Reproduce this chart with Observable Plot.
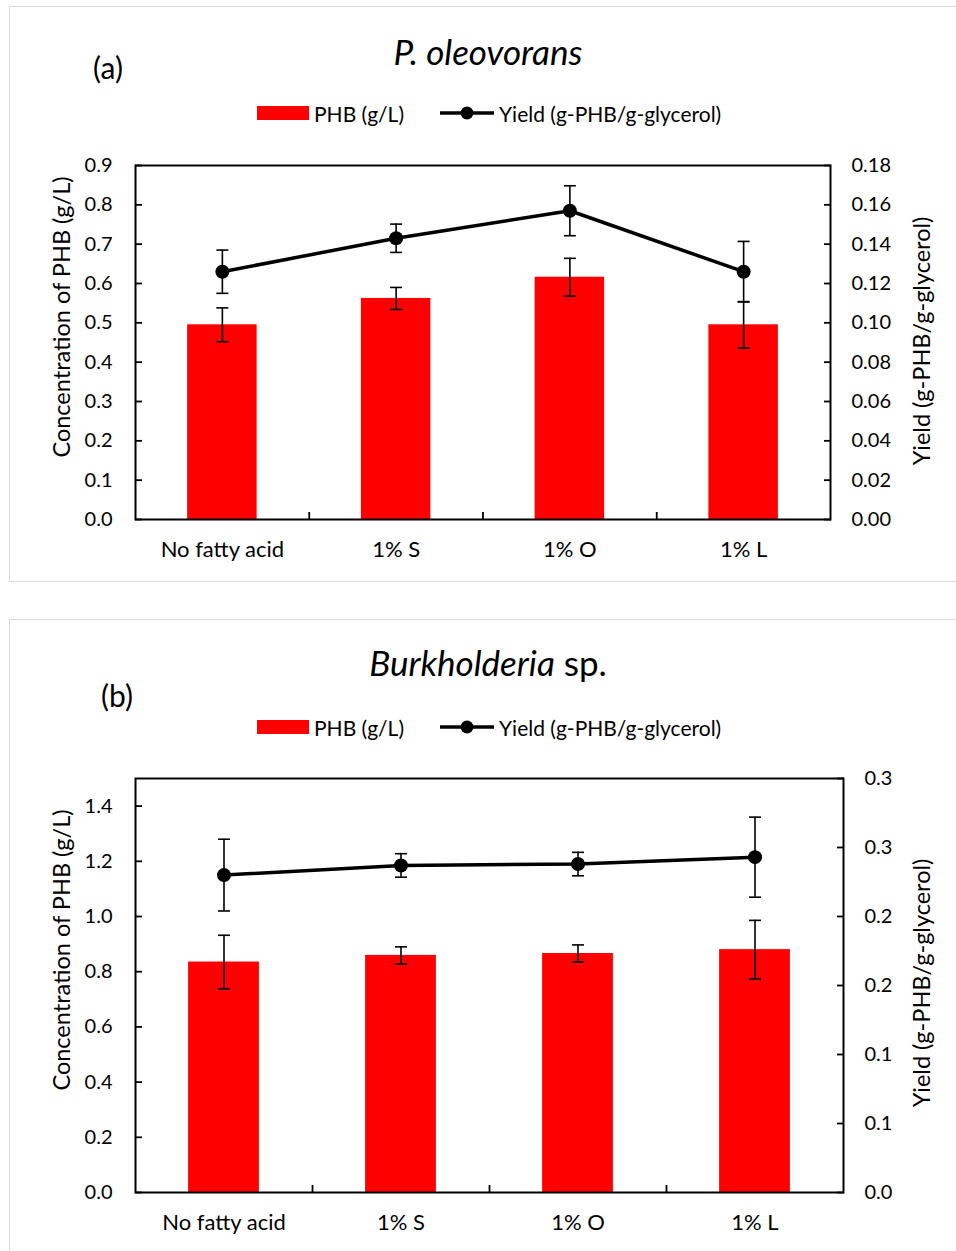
<!DOCTYPE html>
<html>
<head>
<meta charset="utf-8">
<script src="https://cdn.jsdelivr.net/npm/d3@7"></script>
<script src="https://cdn.jsdelivr.net/npm/@observablehq/plot@0.6"></script>
<style>
  body { margin: 0; background: #fff; }
  #root { position: relative; width: 956px; height: 1251px; overflow: hidden; color: #000;
          font-family: Lato, "Open Sans", sans-serif; }
  .panel { position: absolute; left: 9px; width: 980px; border: 1px solid #d9d9d9; box-sizing: border-box; }
  .abs { position: absolute; white-space: nowrap; line-height: 1; }
  .title { left: 0; width: 976px; text-align: center; font-size: 35px; }
  .tag { font-size: 30px; transform: translate(-50%, -50%); }
  .axtitle { font-size: 23.5px; transform: translate(-50%, -50%) rotate(-90deg); }
  .legtext { font-size: 21px; transform: translateY(-50%); }
  .plot { position: absolute; left: 0; }
</style>
</head>
<body>
<div id="root"></div>
<script>
// Treatments on the x axis
const categories = ["No fatty acid", "1% S", "1% O", "1% L"];

// (a) P. oleovorans
const phbA = [0.495, 0.562, 0.616, 0.495];
const phbErrA = [0.043, 0.028, 0.048, 0.059];
const yieldA = [0.126, 0.143, 0.157, 0.126];
const yieldErrA = [0.011, 0.0072, 0.0127, 0.0154];
const leftTicksA = [0, 0.1, 0.2, 0.3, 0.4, 0.5, 0.6, 0.7, 0.8, 0.9];
const leftLabelsA = ["0.0", "0.1", "0.2", "0.3", "0.4", "0.5", "0.6", "0.7", "0.8", "0.9"];
const rightTicksA = [0, 0.02, 0.04, 0.06, 0.08, 0.1, 0.12, 0.14, 0.16, 0.18];
const rightLabelsA = ["0.00", "0.02", "0.04", "0.06", "0.08", "0.10", "0.12", "0.14", "0.16", "0.18"];

// (b) Burkholderia sp.
const phbB = [0.835, 0.859, 0.866, 0.880];
const phbErrB = [0.097, 0.031, 0.031, 0.106];
const yieldB = [0.230, 0.237, 0.238, 0.243];
const yieldErrB = [0.026, 0.0085, 0.0085, 0.029];
const leftTicksB = [0, 0.2, 0.4, 0.6, 0.8, 1.0, 1.2, 1.4];
const leftLabelsB = ["0.0", "0.2", "0.4", "0.6", "0.8", "1.0", "1.2", "1.4"];
const rightTicksB = [0, 0.05, 0.1, 0.15, 0.2, 0.25, 0.3];
const rightLabelsB = ["0.0", "0.1", "0.1", "0.2", "0.2", "0.3", "0.3"];

const FONT = "Lato, 'Open Sans', sans-serif";

// horizontal cap used for the error bars
const capSymbol = {
  draw(context, size) {
    const w = Math.sqrt(size / Math.PI);
    context.moveTo(-w, 0);
    context.lineTo(w, 0);
  }
};

function labelFor(ticks, labels, scale = 1) {
  return (d) => {
    const i = ticks.findIndex((t) => Math.abs(t * scale - d) < 1e-9);
    return i < 0 ? "" : labels[i];
  };
}

function chart(o) {
  // the yield series shares the concentration scale through a fixed ratio
  const k = o.yMax / o.rMax;
  const rows = categories.map((c, i) => ({
    i, c,
    phb: o.phb[i], phbLo: o.phb[i] - o.phbErr[i], phbHi: o.phb[i] + o.phbErr[i],
    yld: o.yld[i] * k, yldLo: (o.yld[i] - o.yldErr[i]) * k, yldHi: (o.yld[i] + o.yldErr[i]) * k
  }));
  const cx = (d) => d.i + 0.5;
  return Plot.plot({
    width: 956,
    height: o.height,
    marginLeft: 135,
    marginRight: o.marginRight,
    marginTop: o.marginTop,
    marginBottom: o.marginBottom,
    style: { fontFamily: FONT, fontSize: "20px", color: "#000", background: "transparent", overflow: "visible" },
    x: { domain: [0, categories.length] },
    y: { domain: [0, o.yMax] },
    marks: [
      Plot.rect(rows, { x1: (d) => d.i + 0.3, x2: (d) => d.i + 0.7, y1: 0, y2: "phb", fill: "#ff0000" }),
      Plot.ruleX(rows, { x: cx, y1: "phbLo", y2: "phbHi", stroke: "#000", strokeWidth: 1.6 }),
      Plot.dot(rows, { x: cx, y: "phbLo", symbol: capSymbol, r: 6, stroke: "#000", strokeWidth: 1.6 }),
      Plot.dot(rows, { x: cx, y: "phbHi", symbol: capSymbol, r: 6, stroke: "#000", strokeWidth: 1.6 }),
      Plot.line(rows, { x: cx, y: "yld", stroke: "#000", strokeWidth: 3.5 }),
      Plot.ruleX(rows, { x: cx, y1: "yldLo", y2: "yldHi", stroke: "#000", strokeWidth: 1.6 }),
      Plot.dot(rows, { x: cx, y: "yldLo", symbol: capSymbol, r: 6, stroke: "#000", strokeWidth: 1.6 }),
      Plot.dot(rows, { x: cx, y: "yldHi", symbol: capSymbol, r: 6, stroke: "#000", strokeWidth: 1.6 }),
      Plot.dot(rows, { x: cx, y: "yld", r: 7, fill: "#000" }),
      // left axis: inward ticks + labels
      Plot.axisY({ anchor: "left", ticks: o.yTicks, tickSize: -7, tickFormat: () => "", label: null, strokeWidth: 1.8 }),
      Plot.axisY({ anchor: "left", ticks: o.yTicks, tickSize: 0, tickPadding: 23, tickFormat: labelFor(o.yTicks, o.yLabels), label: null }),
      // right axis (yield)
      Plot.axisY({ anchor: "right", ticks: o.rTicks.map((t) => t * k), tickSize: -7, tickFormat: () => "", label: null, strokeWidth: 1.8 }),
      Plot.axisY({ anchor: "right", ticks: o.rTicks.map((t) => t * k), tickSize: 0, tickPadding: 21, tickFormat: labelFor(o.rTicks, o.rLabels, k), label: null }),
      // category labels and separators
      Plot.axisX({ ticks: categories.map((c, i) => i + 0.5), tickSize: 0, tickPadding: 22, fontSize: 22, tickFormat: (d) => categories[Math.floor(d)], label: null }),
      Plot.axisX({ ticks: d3.range(1, categories.length), tickSize: -7, tickFormat: () => "", label: null, strokeWidth: 1.8 }),
      Plot.frame({ stroke: "#000", strokeWidth: 2 })
    ]
  });
}

const root = document.getElementById("root");

function addDiv(cls, style, html) {
  const el = document.createElement("div");
  el.className = "abs " + cls;
  Object.assign(el.style, style);
  el.innerHTML = html;
  root.appendChild(el);
  return el;
}

function addLegend(cy) {
  addDiv("", { left: "257px", top: (cy - 7) + "px", width: "52px", height: "14px", background: "#ff0000" }, "");
  addDiv("legtext", { left: "314px", top: cy + "px" }, "PHB (g/L)");
  const ns = "http://www.w3.org/2000/svg";
  const svg = document.createElementNS(ns, "svg");
  svg.setAttribute("width", 56);
  svg.setAttribute("height", 16);
  svg.style.position = "absolute";
  svg.style.left = "439px";
  svg.style.top = (cy - 8) + "px";
  svg.innerHTML = '<line x1="1" y1="8" x2="55" y2="8" stroke="#000" stroke-width="3.5"/><circle cx="28" cy="8" r="6.5" fill="#000"/>';
  root.appendChild(svg);
  addDiv("legtext", { left: "499px", top: cy + "px" }, "Yield (g-PHB/g-glycerol)");
}

function addPlot(svg, top) {
  svg.classList.add("plot");
  svg.style.top = top + "px";
  root.appendChild(svg);
}

// panel frames
addDiv("panel", { top: "6px", height: "576px" }, "");
addDiv("panel", { top: "619px", height: "660px" }, "");

// (a)
addDiv("title", { top: "34px", fontStyle: "italic" }, "P. oleovorans");
addDiv("tag", { left: "108px", top: "67px" }, "(a)");
addLegend(113);
addPlot(chart({
  phb: phbA, phbErr: phbErrA, yld: yieldA, yldErr: yieldErrA,
  yMax: 0.9, yTicks: leftTicksA, yLabels: leftLabelsA,
  rMax: 0.18, rTicks: rightTicksA, rLabels: rightLabelsA,
  height: 440, marginTop: 25, marginBottom: 61, marginRight: 126
}), 140);
addDiv("axtitle", { left: "62px", top: "317px" }, "Concentration of PHB (g/L)");
addDiv("axtitle", { left: "922px", top: "341px" }, "Yield (g-PHB/g-glycerol)");

// (b)
addDiv("title", { top: "645px" }, "<i>Burkholderia</i> sp.");
addDiv("tag", { left: "117px", top: "695px" }, "(b)");
addLegend(727);
addPlot(chart({
  phb: phbB, phbErr: phbErrB, yld: yieldB, yldErr: yieldErrB,
  yMax: 1.5, yTicks: leftTicksB, yLabels: leftLabelsB,
  rMax: 0.3, rTicks: rightTicksB, rLabels: rightLabelsB,
  height: 500, marginTop: 28, marginBottom: 58, marginRight: 113
}), 750);
addDiv("axtitle", { left: "62px", top: "950px" }, "Concentration of PHB (g/L)");
addDiv("axtitle", { left: "922px", top: "983px" }, "Yield (g-PHB/g-glycerol)");
</script>
</body>
</html>
